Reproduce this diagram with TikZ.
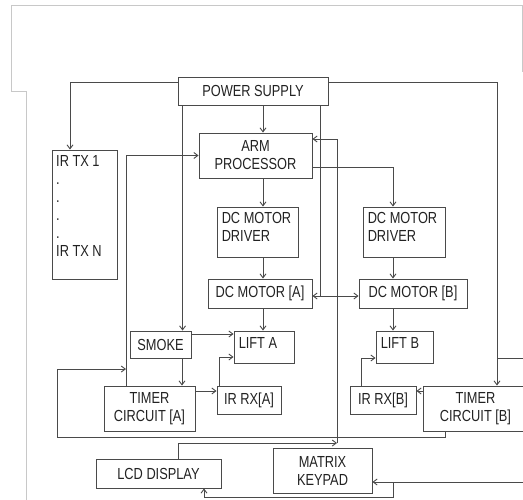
\documentclass[tikz,border=0pt]{standalone}
\usepackage{fontspec}
\setmainfont[FakeStretch=0.8]{Liberation Sans}
\usetikzlibrary{arrows.meta}
\definecolor{ln}{HTML}{4A4A4A}
\definecolor{tx}{HTML}{222222}
\definecolor{fr}{HTML}{C8C8C8}
\begin{document}
\begin{tikzpicture}[x=1pt,y=-1pt,
  box/.style={draw=ln, line width=0.9pt, text=tx, font=\fontsize{16}{18}\selectfont, inner xsep=5pt, inner ysep=3pt, align=center},
  ltext/.style={text=tx, font=\fontsize{16}{17.5}\selectfont, align=left, inner sep=0pt, anchor=west},
  conn/.style={draw=ln, line width=0.9pt},
  >={Straight Barb[length=4pt,width=6pt]}]
\useasboundingbox (0,0) rectangle (523,499);
\clip (0,0) rectangle (523,499);
% frame
\draw[fr, line width=0.8pt] (26,505) -- (26,91) -- (11,91) -- (11,5) -- (525,5);
\draw[fr, line width=0.8pt] (522,5) -- (522,72);
% column coordinates
\coordinate (cA) at (263,0);
\coordinate (cB) at (393,0);
\coordinate (cS) at (182,0);
\coordinate (cT) at (126,0);
% boxes
\node[box, minimum width=150, minimum height=28] (ps) at (253,91) {POWER SUPPLY};
\node[box, minimum width=65, minimum height=129] (irtx) at (84.5,214.5) {};
\node[ltext, anchor=north west, font=\fontsize{16}{18}\selectfont] (irtxt) at (56,155) {IR TX 1\\.\\.\\.\\.\\IR TX N};
\node[box, minimum width=113, minimum height=45] (arm) at (255.5,155.5) {ARM\\PROCESSOR};
\node[box, minimum width=81, minimum height=50] (drva) at (257.5,232) {};
\node[ltext] (drvatxt) at ([xshift=5pt,yshift=5pt]drva.west) {DC MOTOR\\DRIVER};
\node[box, minimum width=104, minimum height=29] (mota) at (260,293.5) {DC MOTOR [A]};
\node[box, minimum width=82, minimum height=50] (drvb) at (404,232) {};
\node[ltext] (drvbtxt) at ([xshift=5pt,yshift=5pt]drvb.west) {DC MOTOR\\DRIVER};
\node[box, minimum width=108, minimum height=29] (motb) at (413,293.5) {DC MOTOR [B]};
\node[box, minimum width=61, minimum height=27] (smoke) at (160.5,344.5) {SMOKE};
\node[box, minimum width=60, minimum height=32] (lifta) at (264,347) {};
\node[ltext] (liftatxt) at ([xshift=5pt,yshift=4pt]lifta.west) {LIFT A};
\node[box, minimum width=57, minimum height=32] (liftb) at (404.5,347) {};
\node[ltext] (liftbtxt) at ([xshift=5pt,yshift=4pt]liftb.west) {LIFT B};
\node[box, minimum width=91, minimum height=45] (timera) at (149.5,408.5) {TIMER\\CIRCUIT [A]};
\node[box, minimum width=64, minimum height=28] (irrxa) at (249,400) {IR RX[A]};
\node[box, minimum width=66, minimum height=28] (irrxb) at (383,400) {IR RX[B]};
\node[box, minimum width=105, minimum height=45] (timerb) at (475.5,408.5) {TIMER\\CIRCUIT [B]};
\node[box, minimum width=125, minimum height=29] (lcd) at (158.5,473.5) {LCD DISPLAY};
\node[box, minimum width=99, minimum height=45] (keypad) at (322.5,470.5) {MATRIX\\KEYPAD};
% free coordinates
\coordinate (j1) at (320,296);
\coordinate (l1) at (57,437);
\coordinate (l2) at (126,369);
\coordinate (r1) at (497,358);
\coordinate (r2) at (530,358);
\coordinate (k1) at (337,443);
\coordinate (b1) at (530,482);
\coordinate (b2) at (393,482);
\coordinate (b3) at (393,497);
% connectors
\draw[conn,->] ([yshift=-6pt]ps.north west) -| ([xshift=-14.5pt]irtx.north);
\draw[conn,->] ([yshift=-6pt]ps.north east) -| ([xshift=21.5pt]timerb.north);
\draw[conn,->] ([xshift=5pt]ps.south west) -- ([xshift=5pt]ps.south west |- smoke.north);
\draw[conn,->] (ps.south -| cA) -- (arm.north -| cA);
\draw[conn] (j1 |- ps.south) -- (j1);
\draw[conn,->] (arm.south -| cA) -- (drva.north -| cA);
\draw[conn,->] (drva.south -| cA) -- (mota.north -| cA);
\draw[conn,->] (mota.south -| cA) -- (lifta.north -| cA);
\draw[conn,->] ([yshift=-11.5pt]arm.east) -| (drvb.north -| cB);
\draw[conn,->] (drvb.south -| cB) -- (motb.north -| cB);
\draw[conn,->] (motb.south -| cB) -- (liftb.north -| cB);
\draw[conn,<->] ([yshift=-2.5pt]mota.east) -- ([yshift=-2.5pt]motb.west);
\draw[conn,->] ([yshift=10.5pt]smoke.east) -- ([yshift=10.5pt]smoke.east -| lifta.west);
\draw[conn,->] (smoke.south -| cS) -- (timera.north -| cS);
\draw[conn,->] ([yshift=17.5pt]timera.east) -- ([yshift=17.5pt]timera.east -| irrxa.west);
\draw[conn,->] ([xshift=3pt]irrxa.north west) |- ([yshift=-10pt]lifta.west);
\draw[conn,->] (timera.north -| cT) |- (arm.west);
\draw[conn,->] ([xshift=-30.5pt]timerb.south) |- (l1) |- (l2);
\draw[conn,->] ([yshift=17.5pt]timerb.west) -- ([yshift=17.5pt]timerb.west -| irrxb.east);
\draw[conn,->] ([xshift=12pt]irrxb.north west) |- ([yshift=-11pt]liftb.west);
\draw[conn] (r1) -- (r2);
\draw[conn,->] ([xshift=19.5pt]lcd.north) |- (k1);
\draw[conn,->] (k1) |- ([yshift=16.5pt]arm.east);
\draw[conn,->] (b1) -- (keypad.east |- b1);
\draw[conn,->] (b2) -- (b3) -| ([xshift=45.5pt]lcd.south);
\end{tikzpicture}
\end{document}
